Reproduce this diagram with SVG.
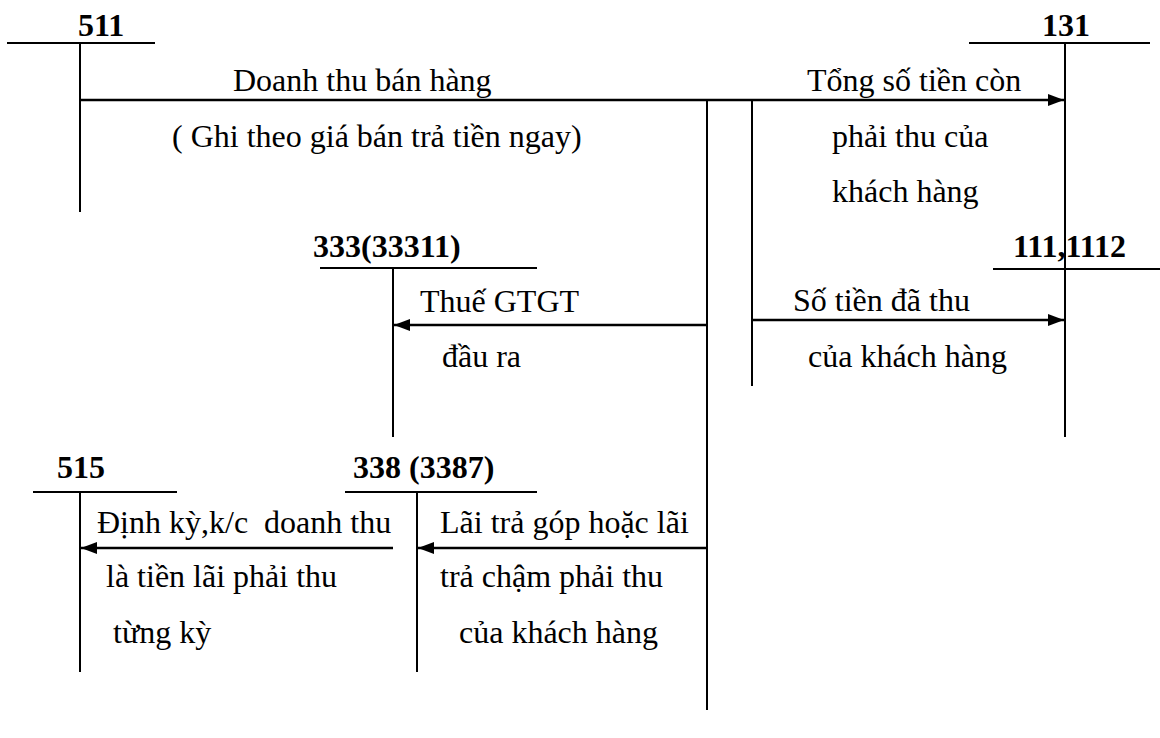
<svg xmlns="http://www.w3.org/2000/svg" width="1160" height="738" viewBox="0 0 1160 738">
<style>
text{font-family:"Liberation Serif","Times New Roman",serif;font-size:32px;fill:#000;white-space:pre}
.h{font-weight:bold}
.t{stroke:#000;stroke-width:2;fill:none}
.c{stroke:#000;stroke-width:2.6;fill:none}
</style>
<defs>
<marker id="ar" viewBox="0 0 16 12" refX="16" refY="6" markerWidth="16" markerHeight="12" markerUnits="userSpaceOnUse" orient="auto">
<path d="M0,0 L16,6 L0,12 Z" fill="#000"/>
</marker>
</defs>
<rect width="1160" height="738" fill="#fff"/>
<g id="acc511">
<text class="h" x="78" y="36">511</text>
<line class="t" x1="7" y1="43" x2="155" y2="43"/>
<line class="t" x1="80" y1="43" x2="80" y2="212"/>
</g>
<g id="acc131">
<text class="h" x="1042" y="36">131</text>
<line class="t" x1="969" y1="43" x2="1150" y2="43"/>
<line class="t" x1="1065" y1="43" x2="1065" y2="437"/>
</g>
<g id="acc111">
<text class="h" x="1013" y="257">111,1112</text>
<line class="t" x1="993" y1="269" x2="1160" y2="269"/>
</g>
<g id="acc333">
<text class="h" x="313" y="257">333(33311)</text>
<line class="t" x1="320" y1="268" x2="537" y2="268"/>
<line class="t" x1="393" y1="268" x2="393" y2="437"/>
</g>
<g id="acc338">
<text class="h" x="353" y="478">338 (3387)</text>
<line class="t" x1="345" y1="492" x2="537" y2="492"/>
<line class="t" x1="417" y1="492" x2="417" y2="672"/>
</g>
<g id="acc515">
<text class="h" x="57" y="478">515</text>
<line class="t" x1="33" y1="492" x2="177" y2="492"/>
<line class="t" x1="80" y1="492" x2="80" y2="672"/>
</g>
<g id="connectors">
<line class="c" x1="80" y1="100" x2="1064" y2="100" marker-end="url(#ar)"/>
<line class="t" x1="707" y1="100" x2="707" y2="710"/>
<line class="t" x1="752" y1="100" x2="752" y2="386"/>
<line class="c" x1="752" y1="320" x2="1064" y2="320" marker-end="url(#ar)"/>
<line class="c" x1="707" y1="325" x2="394" y2="325" marker-end="url(#ar)"/>
<line class="c" x1="707" y1="548" x2="418" y2="548" marker-end="url(#ar)"/>
<line class="c" x1="393" y1="548" x2="81" y2="548" marker-end="url(#ar)"/>
</g>
<g id="labels">
<text x="233" y="91">Doanh thu bán hàng</text>
<text x="172" y="147">( Ghi theo giá bán trả tiền ngay)</text>
<text x="807" y="91">Tổng số tiền còn</text>
<text x="832" y="147">phải thu của</text>
<text x="832" y="202">khách hàng</text>
<text x="793" y="311">Số tiền đã thu</text>
<text x="808" y="367">của khách hàng</text>
<text x="420" y="312">Thuế GTGT</text>
<text x="442" y="367">đầu ra</text>
<text x="440" y="533">Lãi trả góp hoặc lãi</text>
<text x="440" y="587">trả chậm phải thu</text>
<text x="459" y="643">của khách hàng</text>
<text x="97" y="533">Định kỳ,k/c  doanh thu</text>
<text x="106" y="587">là tiền lãi phải thu</text>
<text x="113" y="643">từng kỳ</text>
</g>
</svg>
